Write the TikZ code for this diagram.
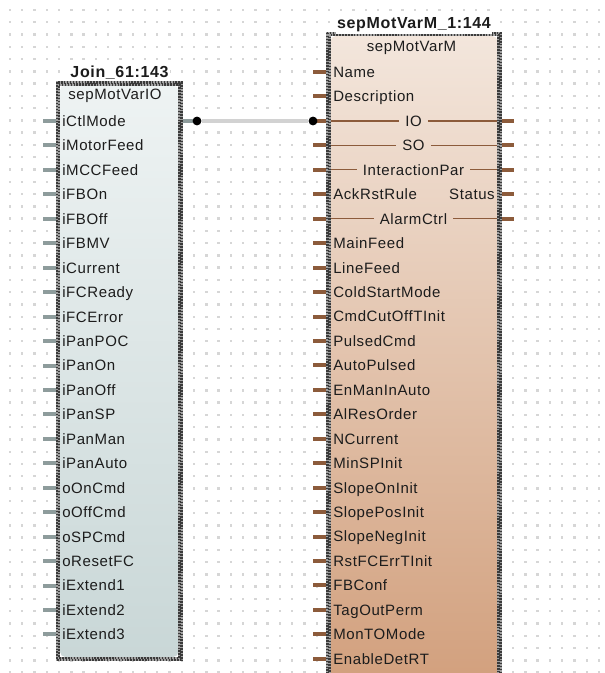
\documentclass[tikz,border=0pt]{standalone}
\usepackage{fontspec}
\setmainfont{Liberation Sans}
\newfontfamily\pinfont[LetterSpace=4]{Liberation Sans}
\definecolor{griddot}{HTML}{D6D6D6}
\definecolor{txt}{HTML}{1C1C1C}
\definecolor{iotop}{HTML}{EEF3F3}
\definecolor{iobot}{HTML}{C9D7D7}
\definecolor{mtop}{HTML}{F3E6DC}
\definecolor{mbot}{HTML}{D09C78}
\definecolor{graypin}{HTML}{8E9C9C}
\definecolor{brownpin}{HTML}{8C5B3B}
\definecolor{wiregray}{HTML}{D2D2D2}
\definecolor{bordergray}{HTML}{A0A0A0}
\definecolor{borderdark}{HTML}{3A3A3A}
\begin{document}
\begin{tikzpicture}[x=0.75pt,y=-0.75pt,
  pinlabel/.style={anchor=base west,inner sep=0pt,text=txt,
    font=\pinfont\fontsize{11.25}{13}\selectfont},
  rlabel/.style={pinlabel,anchor=base east},
  inlabel/.style={pinlabel,anchor=base},
  blocktitle/.style={anchor=base,inner sep=1pt,fill=white,text=txt,
    font=\pinfont\bfseries\fontsize{12}{14}\selectfont},
  typename/.style={anchor=base,inner sep=0pt,text=txt,
    font=\pinfont\fontsize{11.25}{13}\selectfont},
  graystub/.style={draw=graypin,line width=3pt},
  brownstub/.style={draw=brownpin,line width=3pt},
  inline/.style={draw=brownpin,line width=1pt},
  wire/.style={draw=wiregray,line width=3pt},
  joint/.style={circle,fill=black,inner sep=0pt,minimum size=6.4pt},
  bframe/.style={draw=bordergray,line width=3.4pt},
  bcheck/.style={draw=borderdark,line width=1.7pt,dash pattern=on 1.1pt off 1.1pt}
]
\clip (0,0) rectangle (604,673);
\fill[white] (0,0) rectangle (604,673);

% dotted drawing grid
\foreach \i in {0,...,48}
  \foreach \j in {0,...,54}
    \fill[griddot] ({8.8+12.27*\i},{8.8+12.27*\j}) rectangle ++(2.4,2.4);

% ---------------- block sepMotVarIO ----------------
\foreach \k in {0,...,21}
  \draw[graystub] (43,{121+24.45*\k}) -- (58,{121+24.45*\k});
\draw[graystub] (180,121) -- (193,121);

\fill[white] (58,83.5) rectangle (180.5,659);
\shade[top color=iotop,bottom color=iobot,rounded corners=4pt]
  (60,85.5) rectangle (178.5,657);
\draw[bframe] (58,83.5) rectangle (180.5,659);
\draw[bcheck] (56.9,82.4) rectangle (181.6,660.1);
\draw[bcheck,dash phase=1.1pt] (59.1,84.6) rectangle (179.4,657.9);

\node[blocktitle] (tio) at (119.5,77.5) {Join\_61:143};
\node[typename] (nio) at (115,100) {sepMotVarIO};

\foreach \t [count=\k from 0] in {iCtlMode,iMotorFeed,iMCCFeed,iFBOn,iFBOff,
    iFBMV,iCurrent,iFCReady,iFCError,iPanPOC,iPanOn,iPanOff,iPanSP,iPanMan,
    iPanAuto,oOnCmd,oOffCmd,oSPCmd,oResetFC,iExtend1,iExtend2,iExtend3}
  \node[pinlabel] (io-\k) at (62,{126.4+24.45*\k}) {\t};

% ---------------- block sepMotVarM ----------------
\foreach \k in {0,...,24}
  \draw[brownstub] (313,{72+24.45*\k}) -- (329,{72+24.45*\k});
\foreach \k in {2,...,6}
  \draw[brownstub] (499,{72+24.45*\k}) -- (514,{72+24.45*\k});

\fill[white] (328.5,34) rectangle (499.5,720);
\shade[top color=mtop,bottom color=mbot,rounded corners=4pt]
  (330.5,36) rectangle (497.5,718);
\draw[bframe] (328.5,34) rectangle (499.5,720);
\draw[bcheck] (327.4,32.9) rectangle (500.6,721.1);
\draw[bcheck,dash phase=1.1pt] (329.6,35.1) rectangle (498.4,718.9);

\node[blocktitle] (tm) at (414,29) {sepMotVarM\_1:144};
\node[typename] (nm) at (411.5,51.4) {sepMotVarM};

% plain input pins
\foreach \k/\t in {0/Name,1/Description,5/AckRstRule,7/MainFeed,8/LineFeed,
    9/ColdStartMode,10/CmdCutOffTInit,11/PulsedCmd,12/AutoPulsed,
    13/EnManInAuto,14/AlResOrder,15/NCurrent,16/MinSPInit,17/SlopeOnInit,
    18/SlopePosInit,19/SlopeNegInit,20/RstFCErrTInit,21/FBConf,
    22/TagOutPerm,23/MonTOMode,24/EnableDetRT}
  \node[pinlabel] (m-\k) at (333,{77.4+24.45*\k}) {\t};
\node[rlabel] (m-st) at (495,{77.4+24.45*5}) {Status};

% in/out pins running across the block
\foreach \k/\t in {2/IO,3/SO,4/InteractionPar,6/AlarmCtrl}{
  \coordinate (ml-\k) at (331,{72+24.45*\k});
  \coordinate (mr-\k) at (497,{72+24.45*\k});
  \node[inlabel] (mio-\k) at (413.5,{77.4+24.45*\k}) {\t};
  \draw[inline] (ml-\k) -- ([xshift=-4.5pt]mio-\k.west |- ml-\k);
  \draw[inline] ([xshift=4.5pt]mio-\k.east |- mr-\k) -- (mr-\k);
}

% connection iCtlMode -> IO
\node[joint] (ja) at (197,121) {};
\node[joint] (jb) at (313,121) {};
\draw[wire] (ja) -- (jb);
\node[joint] at (ja) {};
\node[joint] at (jb) {};
\end{tikzpicture}
\end{document}
